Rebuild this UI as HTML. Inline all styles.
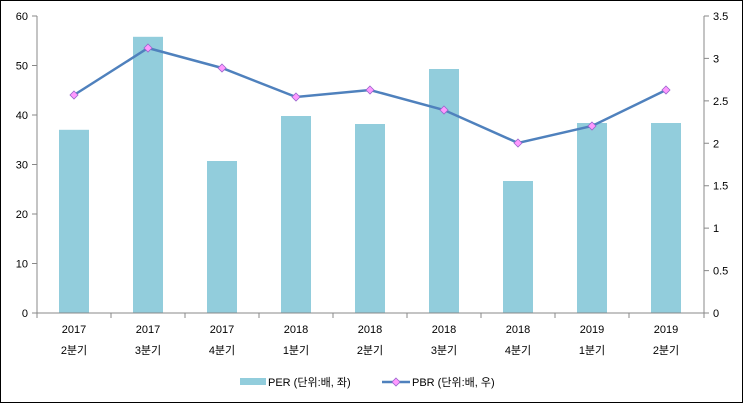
<!DOCTYPE html><html><head><meta charset="utf-8"><style>body{margin:0;background:#fff}svg{display:block;font-family:"Liberation Sans","Noto Sans CJK KR",sans-serif;font-size:11px;fill:#000}</style></head><body>
<svg width="743" height="403" viewBox="0 0 743 403">
<rect x="0.5" y="0.5" width="742" height="402" fill="#fff" stroke="#000"/>
<g fill="#92CDDC">
<rect x="59" y="129.8" width="30" height="183.2"/>
<rect x="133" y="36.8" width="30" height="276.2"/>
<rect x="207" y="161" width="30" height="152"/>
<rect x="281" y="116" width="30" height="197"/>
<rect x="355" y="124" width="30" height="189"/>
<rect x="429" y="69" width="30" height="244"/>
<rect x="503" y="181" width="30" height="132"/>
<rect x="577" y="123" width="30" height="190"/>
<rect x="651" y="123" width="30" height="190"/>
</g>
<g stroke="#888" fill="none">
<path d="M37 16V313M704 16V313M37 313H704"/>
<path d="M32 16H37M32 65.5H37M32 115H37M32 164.5H37M32 214H37M32 263.5H37M32 313H37"/>
<path d="M704 16H709M704 58.4H709M704 100.9H709M704 143.3H709M704 185.7H709M704 228.1H709M704 270.6H709M704 313H709"/>
<path d="M37 313V318M111 313V318M185 313V318M259 313V318M333 313V318M407 313V318M481 313V318M555 313V318M629 313V318M704 313V318"/>
</g>
<g text-anchor="end">
<text x="28" y="20">60</text><text x="28" y="69.5">50</text><text x="28" y="119">40</text><text x="28" y="168.5">30</text><text x="28" y="218">20</text><text x="28" y="267.5">10</text><text x="28" y="317">0</text>
</g>
<g text-anchor="start">
<text x="713" y="20">3.5</text><text x="713" y="62.4">3</text><text x="713" y="104.9">2.5</text><text x="713" y="147.3">2</text><text x="713" y="189.7">1.5</text><text x="713" y="232.1">1</text><text x="713" y="274.6">0.5</text><text x="713" y="317">0</text>
</g>
<g text-anchor="middle">
<text x="74" y="333">2017</text><text x="74" y="354">2분기</text>
<text x="148" y="333">2017</text><text x="148" y="354">3분기</text>
<text x="222" y="333">2017</text><text x="222" y="354">4분기</text>
<text x="296" y="333">2018</text><text x="296" y="354">1분기</text>
<text x="370" y="333">2018</text><text x="370" y="354">2분기</text>
<text x="444" y="333">2018</text><text x="444" y="354">3분기</text>
<text x="518" y="333">2018</text><text x="518" y="354">4분기</text>
<text x="592" y="333">2019</text><text x="592" y="354">1분기</text>
<text x="666" y="333">2019</text><text x="666" y="354">2분기</text>
</g>
<polyline fill="none" stroke="#4F81BD" stroke-width="2.5" points="74,95 148,48 222,68 296,97 370,90 444,110 518,143 592,126 666,90"/>
<g fill="#FF99FF" stroke="#9966CC" stroke-width="0.8">
<path d="M74 91l4 4-4 4-4-4z"/><path d="M148 44l4 4-4 4-4-4z"/><path d="M222 64l4 4-4 4-4-4z"/><path d="M296 93l4 4-4 4-4-4z"/><path d="M370 86l4 4-4 4-4-4z"/><path d="M444 106l4 4-4 4-4-4z"/><path d="M518 139l4 4-4 4-4-4z"/><path d="M592 122l4 4-4 4-4-4z"/><path d="M666 86l4 4-4 4-4-4z"/>
</g>
<rect x="240" y="378" width="26" height="7" fill="#92CDDC"/>
<text x="268" y="386">PER (단위:배, 좌)</text>
<line x1="382" y1="382" x2="410" y2="382" stroke="#4F81BD" stroke-width="2.5"/>
<path d="M396 378l4 4-4 4-4-4z" fill="#FF99FF" stroke="#9966CC" stroke-width="0.8"/>
<text x="412" y="386">PBR (단위:배, 우)</text>
</svg>
</body></html>
